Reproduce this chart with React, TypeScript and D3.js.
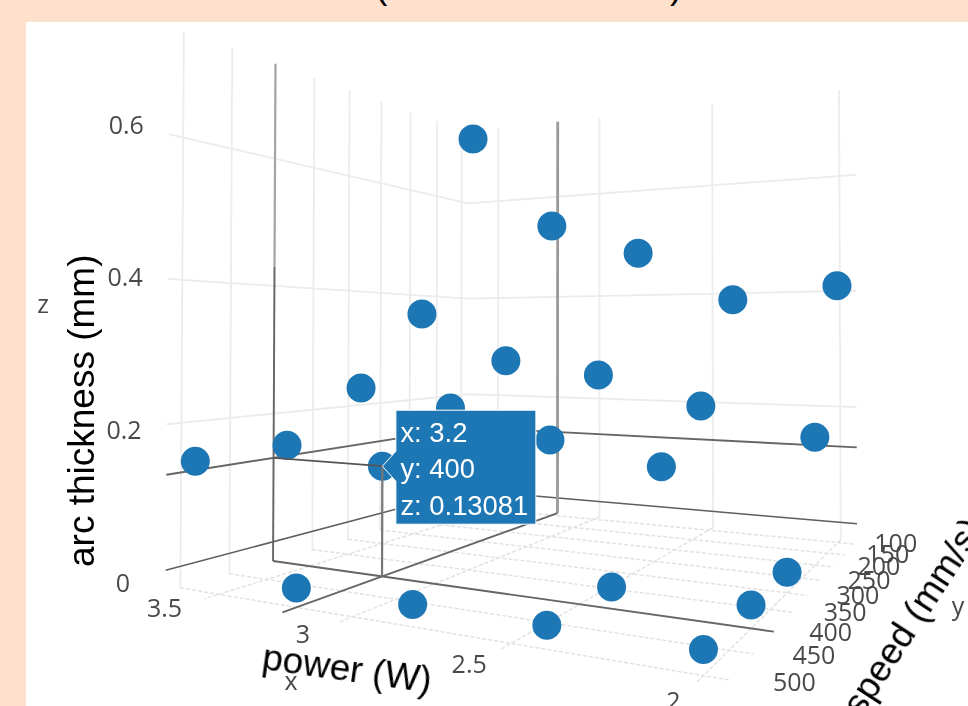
import React, {useEffect, useRef} from 'react';
import * as d3 from 'd3';

const powers = [2, 2.4, 2.8, 3.2, 3.6];
const speeds = [100, 200, 300, 400, 500];
// one row per speed, in the order of powers
const thickness100 = [0.408, 0.387, 0.478, 0.539, 0.728];
const thickness200 = [0.166, 0.208, 0.255, 0.277, 0.363];
const thickness300 = [-0.002, 0.131, 0.161, 0.204, 0.232];
const thickness400 = [-0.002, -0.002, 0.1, 0.13081, 0.152];
const thickness500 = [-0.003, -0.003, -0.003, -0.005, 0.148];
const thickness = [thickness100, thickness200, thickness300, thickness400, thickness500];

const xTicks = [3.5, 3, 2.5, 2];
const yTicks = [100, 150, 200, 250, 300, 350, 400, 450, 500];
const zTicks = [0, 0.2, 0.4, 0.6];
const hover = {x: 3.2, y: 400, z: 0.13081};

const xRange = [3.66, 1.94];
const yRange = [86, 514];
const zRange = [-0.03, 0.75];

const BLUE = '#1f77b4';
const TICK_FONT = '"Open Sans", sans-serif';
const TITLE_FONT = '"Liberation Sans", Arial, sans-serif';

const CAMERA = [236.8442, -358.7914, 3.3949, 467.5705, -59.7013, -115.468, -371.8672, 504.5725, -0.1782, -0.343, 0.0057];

const xScale = d3.scaleLinear().domain(xRange).range([0, 1]);
const yScale = d3.scaleLinear().domain(yRange).range([0, 1]);
const zScale = d3.scaleLinear().domain(zRange).range([0, 1]);

const project = (x: number, y: number, z: number): [number, number] => {
    const u = xScale(x), v = yScale(y), w = zScale(z);
    const c = CAMERA;
    const d = c[8] * u + c[9] * v + c[10] * w + 1;
    return [(c[0] * u + c[1] * v + c[2] * w + c[3]) / d, (c[4] * u + c[5] * v + c[6] * w + c[7]) / d];
};

export default function App() {
    const ref = useRef<SVGSVGElement>(null);

    useEffect(() => {
        const svg = d3.select(ref.current);
        svg.selectAll('*').remove();

        const defs = svg.append('defs');
        defs.append('filter').attr('id', 'soft').attr('x', '-5%').attr('y', '-5%').attr('width', '110%').attr('height', '110%')
            .append('feGaussianBlur').attr('stdDeviation', 0.6);
        defs.append('filter').attr('id', 'softer').attr('x', '-5%').attr('y', '-5%').attr('width', '110%').attr('height', '110%')
            .append('feGaussianBlur').attr('stdDeviation', 0.35);

        svg.append('rect').attr('width', 968).attr('height', 706).attr('fill', '#fee1cd');
        svg.append('rect').attr('x', 26).attr('y', 22).attr('width', 942).attr('height', 684).attr('fill', '#fff');

        // only the bottom of the title brackets is left in the crop
        svg.selectAll('.title-bracket')
            .data([{t: '(', x: 375}, {t: ')', x: 670}])
            .enter().append('text')
            .attr('x', d => d.x).attr('y', -2)
            .attr('font-family', TITLE_FONT).attr('font-size', 37)
            .text(d => d.t);

        const line = d3.line<[number, number, number]>()
            .x(d => project(d[0], d[1], d[2])[0])
            .y(d => project(d[0], d[1], d[2])[1]);

        const [xBack, xFront] = xRange;
        const [yBack, yFront] = yRange;
        const [zLow, zHigh] = zRange;

        const gl = svg.append('g').attr('filter', 'url(#soft)').attr('fill', 'none');
        const seg = (pts: [number, number, number][], color: string, width: number, dash?: string) => {
            gl.append('path').attr('d', line(pts)).attr('stroke', color).attr('stroke-width', width)
                .attr('stroke-dasharray', dash || null);
        };

        // walls
        yTicks.forEach(y => seg([[xBack, y, zLow], [xBack, y, zHigh]], '#ececec', 1.8));
        xTicks.forEach(x => seg([[x, yBack, zLow], [x, yBack, zHigh]], '#ececec', 1.8));
        zTicks.filter(z => z !== 0).forEach(z => seg([[xBack, yFront, z], [xBack, yBack, z], [xFront, yBack, z]], '#ececec', 1.8));

        // floor
        yTicks.forEach(y => seg([[xBack, y, zLow], [xFront, y, zLow]], '#e2e2e2', 1.5, '4 2'));
        xTicks.forEach(x => seg([[x, yBack, zLow], [x, yFront, zLow]], '#e2e2e2', 1.5, '4 2'));

        // zero line
        seg([[xBack, yFront, 0], [xBack, yBack, 0], [xFront, yBack, 0]], '#5e5e5e', 1.5);

        // hover spikes against the walls and floor
        seg([[xBack, hover.y, zLow], [xBack, hover.y, 0.43]], '#666', 1.9);
        seg([[xBack, hover.y, 0.43], [xBack, hover.y, zHigh]], '#a5a5a5', 2.2);
        seg([[hover.x, yBack, zLow], [hover.x, yBack, zHigh]], '#9a9a9a', 2.8);
        seg([[xBack, yFront, hover.z], [xBack, yBack, hover.z], [xFront, yBack, hover.z]], '#666', 1.9);
        seg([[xBack, hover.y, zLow], [xFront, hover.y, zLow]], '#666', 1.9);
        seg([[hover.x, yBack, zLow], [hover.x, yFront, zLow]], '#666', 1.9);

        // markers
        const points = speeds.flatMap((y, i) => powers.map((x, j) => project(x, y, thickness[i][j])));
        gl.selectAll('.point')
            .data(points)
            .enter().append('circle')
            .attr('class', 'point')
            .attr('cx', d => d[0]).attr('cy', d => d[1]).attr('r', 14.5)
            .attr('fill', BLUE);

        // spikes from the hovered point sit over the markers
        seg([[hover.x, hover.y, hover.z], [hover.x, hover.y, zLow]], '#777', 2.2);
        seg([[hover.x, hover.y, hover.z], [xBack, hover.y, hover.z]], '#555', 1.8);

        // tick labels
        const labels = svg.append('g').attr('filter', 'url(#soft)')
            .attr('font-family', TICK_FONT).attr('fill', '#4a4a4a')
            .attr('font-size', 25).attr('text-anchor', 'middle').attr('dominant-baseline', 'central');
        const label = (p: [number, number], t: string) => labels.append('text').attr('x', p[0]).attr('y', p[1]).text(t);
        zTicks.forEach(z => label(project(xBack, 552, z), String(z)));
        xTicks.forEach(x => label(project(x, 550, -0.025), String(x)));
        yTicks.forEach(y => label(project(xFront - 0.145, y, -0.02), String(y)));
        labels.append('text').attr('x', 43).attr('y', 303).text('z');
        labels.append('text').attr('x', 291).attr('y', 680).text('x');
        labels.append('text').attr('x', 958).attr('y', 605).text('y');

        // axis titles
        const titles = svg.append('g').attr('filter', 'url(#softer)')
            .attr('font-family', TITLE_FONT).attr('font-size', 37).attr('fill', '#000');
        titles.append('text').attr('transform', 'translate(94,567) rotate(-90)').text('arc thickness (mm)');
        titles.append('text').attr('transform', 'translate(261,669) rotate(8)').text('power (W)');
        titles.append('text').attr('transform', 'translate(862,718) rotate(-57)').text('speed (mm/s)');

        // tooltip
        const tip = svg.append('g').attr('filter', 'url(#softer)');
        const [hx, hy] = project(hover.x, hover.y, hover.z);
        const box = {x: hx + 13.5, y: hy - 56, w: 140, h: 114};
        const tipPath = d3.path();
        tipPath.moveTo(hx, hy);
        tipPath.lineTo(box.x, hy - 15);
        tipPath.lineTo(box.x, box.y);
        tipPath.lineTo(box.x + box.w, box.y);
        tipPath.lineTo(box.x + box.w, box.y + box.h);
        tipPath.lineTo(box.x, box.y + box.h);
        tipPath.lineTo(box.x, hy + 15);
        tipPath.closePath();
        tip.append('path').attr('d', tipPath.toString()).attr('fill', BLUE).attr('stroke', '#fff').attr('stroke-width', 1);
        tip.selectAll('text')
            .data([`x: ${hover.x}`, `y: ${hover.y}`, `z: ${hover.z}`])
            .enter().append('text')
            .attr('x', box.x + 4.5)
            .attr('y', (d, i) => box.y + 32 + i * 36.2)
            .attr('font-family', TITLE_FONT).attr('font-size', 27.4).attr('fill', '#fff')
            .text(d => d);
    }, []);

    return <svg ref={ref} width={968} height={706} style={{position: 'fixed', left: 0, top: 0}} />;
}
